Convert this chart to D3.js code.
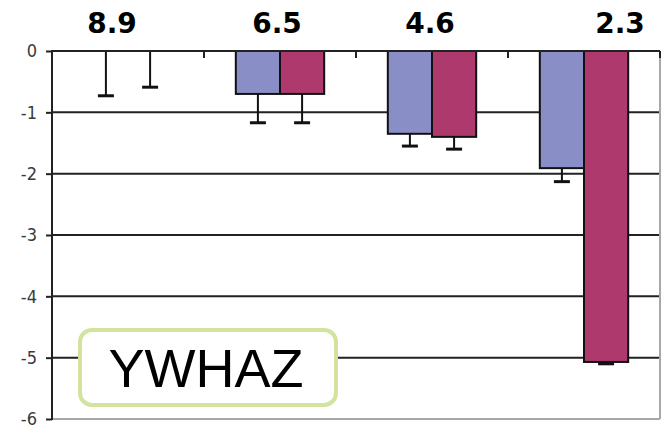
<html>
<head>
<script src="https://d3js.org/d3.v7.min.js"></script>
<style>
  body { margin: 0; background: #fff; }
  svg { display: block; }
</style>
</head>
<body>
<div id="chart"></div>
<script>
// data
var categories = ["8.9", "6.5", "4.6", "2.3"];
var series = ["a", "b"];
var valuesA = [0, -0.70, -1.35, -1.91];
var valuesB = [0, -0.70, -1.40, -5.07];
var errorsA = [0.73, 0.47, 0.20, 0.22];
var errorsB = [0.59, 0.47, 0.20, 0.03];
var yTicks = [0, -1, -2, -3, -4, -5, -6];
var geneName = "YWHAZ";

// layout only
var labelShift = [-16, -3, -2, 36];
var colors = { a: "#8a8ec6", b: "#ad396d" };

var W = 665, H = 428;
var margin = { top: 51, right: 5, bottom: 9, left: 52 };

var svg = d3.select("#chart").append("svg")
  .attr("width", W)
  .attr("height", H);

var x0 = d3.scaleBand()
  .domain(categories)
  .range([margin.left, W - margin.right]);

var x1 = d3.scaleBand()
  .domain(series)
  .range([0, x0.bandwidth()])
  .paddingOuter(0.72);

var y = d3.scaleLinear()
  .domain([0, -6])
  .range([margin.top, H - margin.bottom]);

var right = W - margin.right;

// gridlines
svg.append("g").selectAll("line")
  .data(yTicks.slice(1, -1))
  .enter().append("line")
    .attr("x1", margin.left)
    .attr("x2", right)
    .attr("y1", function(d) { return y(d); })
    .attr("y2", function(d) { return y(d); })
    .style("stroke", "#222")
    .style("stroke-width", 2);

// gray frame on right and bottom
svg.append("line")
  .attr("x1", right).attr("x2", right)
  .attr("y1", y(0)).attr("y2", y(-6))
  .style("stroke", "#a8a8a8").style("stroke-width", 2);
svg.append("line")
  .attr("x1", margin.left).attr("x2", right)
  .attr("y1", y(-6)).attr("y2", y(-6))
  .style("stroke", "#a8a8a8").style("stroke-width", 2);

// bars
var rows = categories.map(function(c, i) {
  return [
    { cat: c, key: "a", v: valuesA[i], e: errorsA[i] },
    { cat: c, key: "b", v: valuesB[i], e: errorsB[i] }
  ];
});

var groups = svg.append("g").selectAll("g")
  .data(rows)
  .enter().append("g")
    .attr("transform", function(d) { return "translate(" + x0(d[0].cat) + ",0)"; });

groups.selectAll("rect")
  .data(function(d) { return d; })
  .enter().append("rect")
    .attr("x", function(d) { return x1(d.key); })
    .attr("width", x1.bandwidth())
    .attr("y", y(0))
    .attr("height", function(d) { return y(d.v) - y(0); })
    .style("fill", function(d) { return colors[d.key]; })
    .style("stroke", function(d) { return d.v === 0 ? "none" : "#111"; })
    .style("stroke-width", 2);

// error bars (downward only)
var capW = 8;
var err = groups.selectAll("g.err")
  .data(function(d) { return d; })
  .enter().append("g").attr("class", "err");

err.append("line")
  .attr("x1", function(d) { return x1(d.key) + x1.bandwidth() / 2; })
  .attr("x2", function(d) { return x1(d.key) + x1.bandwidth() / 2; })
  .attr("y1", function(d) { return y(d.v); })
  .attr("y2", function(d) { return y(d.v - d.e); })
  .style("stroke", "#111").style("stroke-width", 2);

err.append("line")
  .attr("x1", function(d) { return x1(d.key) + x1.bandwidth() / 2 - capW; })
  .attr("x2", function(d) { return x1(d.key) + x1.bandwidth() / 2 + capW; })
  .attr("y1", function(d) { return y(d.v - d.e); })
  .attr("y2", function(d) { return y(d.v - d.e); })
  .style("stroke", "#111").style("stroke-width", 3);

// zero line with category ticks
svg.append("line")
  .attr("x1", margin.left).attr("x2", right)
  .attr("y1", y(0)).attr("y2", y(0))
  .style("stroke", "#222").style("stroke-width", 2);

svg.append("g").selectAll("line")
  .data(categories.slice(1).concat(["end"]))
  .enter().append("line")
    .attr("x1", function(d) { return d === "end" ? right : x0(d); })
    .attr("x2", function(d) { return d === "end" ? right : x0(d); })
    .attr("y1", y(0))
    .attr("y2", y(0) + 7)
    .style("stroke", "#222").style("stroke-width", 2);

// y axis
var yAxis = d3.axisLeft(y)
  .tickValues(yTicks)
  .tickSize(6)
  .tickPadding(9)
  .tickFormat(function(d) { return String(d); });

var yGuide = svg.append("g")
  .attr("transform", "translate(" + margin.left + ",0)")
  .call(yAxis);
yGuide.select(".domain").remove();
yGuide.selectAll("line").style("stroke", "#222").style("stroke-width", 2);
yGuide.selectAll("text")
  .style("font-family", "'Liberation Sans Narrow', 'DejaVu Sans Condensed', 'Liberation Sans', sans-serif")
  .style("font-stretch", "condensed")
  .style("font-size", "18px")
  .style("fill", "#3a3a3a");
svg.append("line")
  .attr("x1", margin.left).attr("x2", margin.left)
  .attr("y1", y(0) - 1).attr("y2", y(-6) + 1)
  .style("stroke", "#222").style("stroke-width", 2);

// labels above categories
svg.append("g").selectAll("text")
  .data(categories)
  .enter().append("text")
    .attr("x", function(d, i) { return x0(d) + x0.bandwidth() / 2 + labelShift[i]; })
    .attr("y", 33)
    .attr("text-anchor", "middle")
    .style("font-family", "'DejaVu Sans', Verdana, sans-serif")
    .style("font-weight", "bold")
    .style("font-size", "28px")
    .text(function(d) { return d; });

// gene name box
svg.append("rect")
  .attr("x", 80).attr("y", 330)
  .attr("width", 256).attr("height", 75)
  .attr("rx", 12)
  .style("fill", "#fff")
  .style("stroke", "#d2e39e")
  .style("stroke-width", 4);

svg.append("text")
  .attr("x", 206).attr("y", 387)
  .attr("text-anchor", "middle")
  .style("font-family", "'Liberation Sans', Arial, sans-serif")
  .style("font-size", "54px")
  .text(geneName);
</script>
</body>
</html>
